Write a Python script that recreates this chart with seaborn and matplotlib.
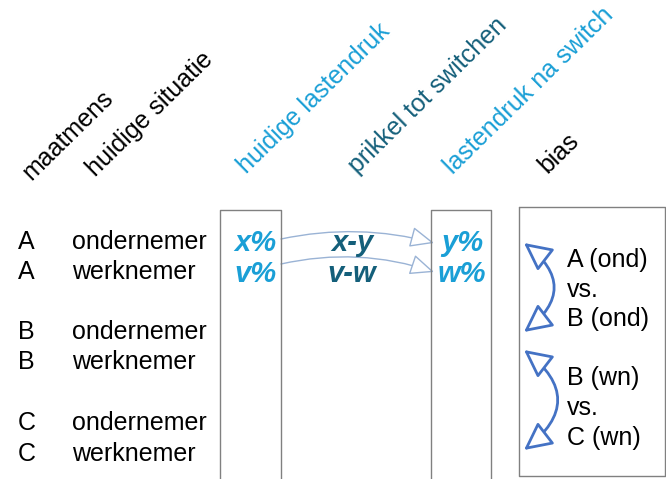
import matplotlib
matplotlib.use("Agg")
import matplotlib.pyplot as plt
import seaborn as sns
from matplotlib.patches import FancyArrowPatch

sns.set_style("white")
plt.rcParams['font.family'] = ['Liberation Sans', 'DejaVu Sans']
plt.rcParams['text.color'] = 'black'

# diagram content
headers = ['maatmens', 'huidige situatie', 'huidige lastendruk',
           'prikkel tot switchen', 'lastendruk na switch', 'bias']
header_colors = ['black', 'black', '#1a9fd6', '#145f7a', '#1a9fd6', 'black']
maatmens = ['A', 'A', 'B', 'B', 'C', 'C']
situatie = ['ondernemer', 'werknemer', 'ondernemer', 'werknemer', 'ondernemer', 'werknemer']
huidig = ['x%', 'v%']
prikkel = ['x-y', 'v-w']
na_switch = ['y%', 'w%']
bias_top = ['A (ond)', 'vs.', 'B (ond)']
bias_bottom = ['B (wn)', 'vs.', 'C (wn)']

blue = '#1a9fd6'
dark = '#145f7a'
arrow_light = '#9ab3d5'
arrow_blue = '#4472c4'
edge = '#808080'

fig = plt.figure(figsize=(6.66, 4.79), dpi=100)
ax = fig.add_axes([0, 0, 1, 1])
ax.set_xlim(0, 666)
ax.set_ylim(479, 0)
ax.axis('off')

# rotated column headers
header_x = [31, 95, 246, 357, 453, 547]
header_y = [181, 177, 174, 174, 175, 174]
for t, c, x, y in zip(headers, header_colors, header_x, header_y):
    ax.text(x, y, t, rotation=44.5, rotation_mode='anchor', ha='left', va='baseline',
            fontsize=18, color=c)

# rows
row_y = [242, 272, 332, 362, 423, 454]
for m, s, y in zip(maatmens, situatie, row_y):
    ax.text(18, y, m, fontsize=18, va='center', ha='left')
    ax.text(72, y, s, fontsize=18, va='center', ha='left')

# boxes
ax.plot([220, 220, 281, 281], [479, 210, 210, 479], color=edge, lw=1)
ax.plot([431, 431, 491, 491], [479, 210, 210, 479], color=edge, lw=1)
ax.plot([519, 665, 665, 519, 519], [207, 207, 476, 476, 207], color=edge, lw=1)

pair_y = [243, 274]
for a, p, b, y in zip(huidig, prikkel, na_switch, pair_y):
    ax.text(255, y, a, fontsize=21, fontweight='bold', fontstyle='italic',
            color=blue, ha='center', va='center')
    ax.text(352, y, p, fontsize=21, fontweight='bold', fontstyle='italic',
            color=dark, ha='center', va='center')
    ax.text(462, y, b, fontsize=21, fontweight='bold', fontstyle='italic',
            color=blue, ha='center', va='center')

# curved arrows between boxes
for (y0, y1), rad in zip([(239, 243), (264, 272)], [-0.12, -0.14]):
    arr = FancyArrowPatch((281, y0), (434, y1), connectionstyle=f'arc3,rad={rad}',
                          arrowstyle='-|>,head_length=15,head_width=6.5',
                          mutation_scale=1, shrinkA=0, shrinkB=0,
                          color=arrow_light, lw=1, fc='white')
    ax.add_patch(arr)

# bias texts
bias_y_top = [260, 290, 319]
bias_y_bottom = [378, 408, 438]
for t, y in zip(bias_top + bias_bottom, bias_y_top + bias_y_bottom):
    ax.text(567, y, t, fontsize=18, va='center', ha='left')

# double-headed bias arrows
for y0, y1 in [(243, 332), (350, 450)]:
    arr = FancyArrowPatch((524, y0), (524, y1), connectionstyle='arc3,rad=-0.65',
                          arrowstyle='<|-|>,head_length=17,head_width=8.5',
                          mutation_scale=1, shrinkA=0, shrinkB=0,
                          color=arrow_blue, lw=2, fc='white')
    ax.add_patch(arr)

fig.savefig('out.png', dpi=100)
